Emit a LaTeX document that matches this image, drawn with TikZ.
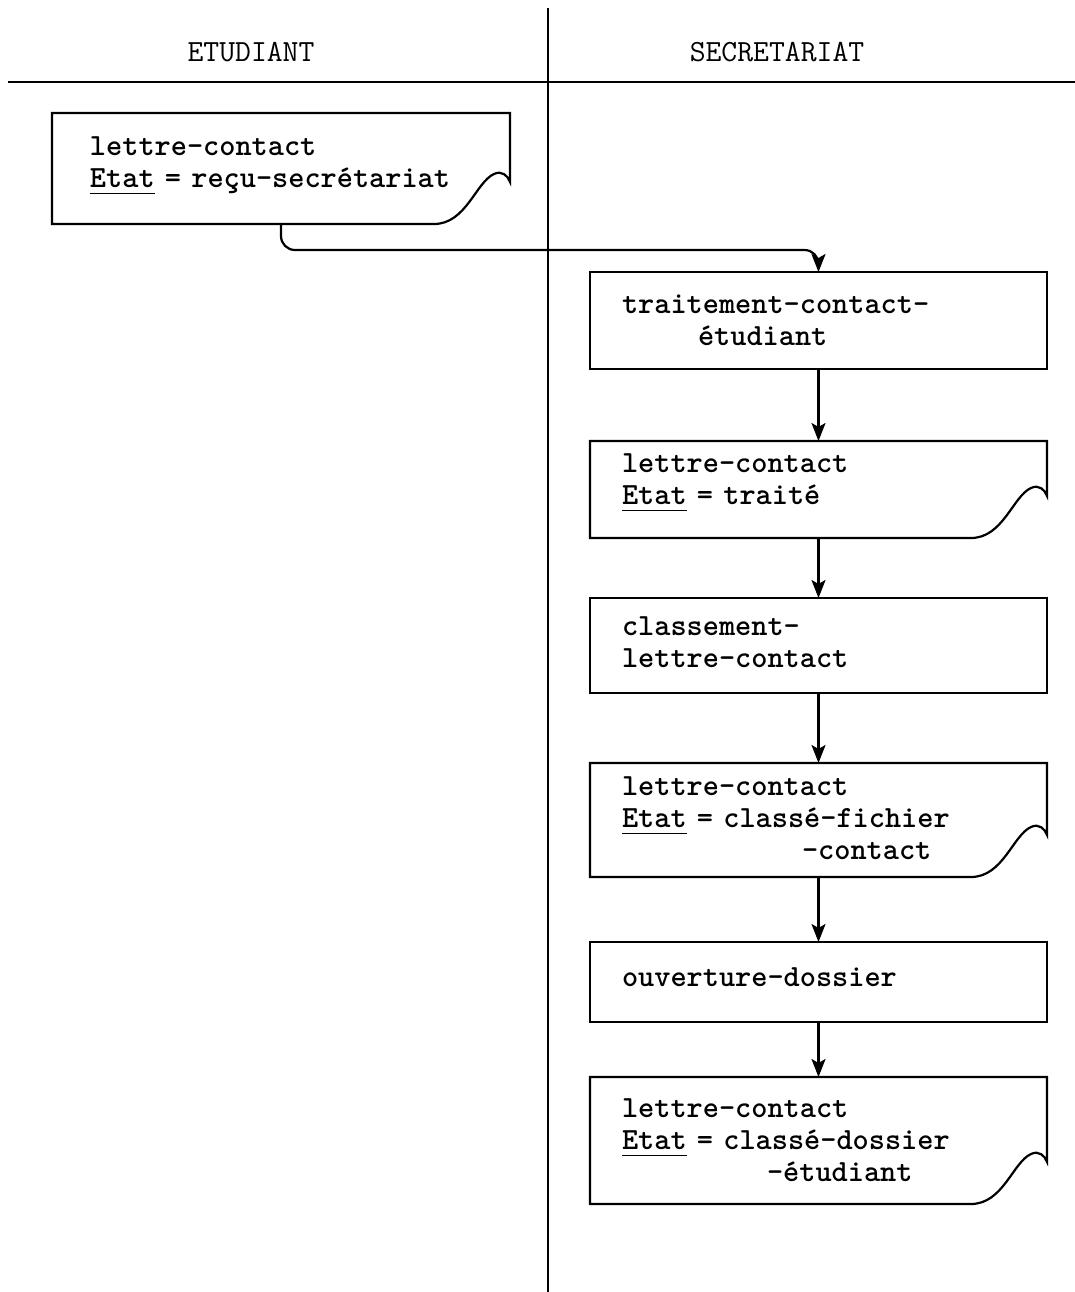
\documentclass[tikz,border=0pt]{standalone}
\usetikzlibrary{positioning,calc,arrows.meta}

% typewriter face: fixed pitch, spaces included
\protected\def\machine{\ttfamily\bfseries\fontsize{15.4}{16}\selectfont
  \fontdimen2\font=0.525em \fontdimen3\font=0pt \fontdimen4\font=0pt\relax}
\protected\def\entete{\ttfamily\fontsize{15.4}{16}\selectfont}
% contour of a document node, with the curled lower right corner
\newcommand{\lettre}[1]{%
  \draw[trait] (#1.south west) -- ([xshift=-38pt]#1.south east)
    .. controls +(16pt,0pt) and +(-9pt,-4pt) .. ([xshift=-8pt,yshift=25pt]#1.south east)
    .. controls +(4pt,2pt) and +(-1pt,3pt) .. ([yshift=21pt]#1.south east)
    -- (#1.north east) -- (#1.north west) -- cycle;}
% thin underline, as typed
\newcommand{\souligne}[1]{\leavevmode\setbox0\hbox{#1}\rlap{\vrule width\wd0 height -2.6pt depth 3.1pt}\box0\relax}

\begin{document}
\begin{tikzpicture}[
        x=0.5pt, y=-0.5pt,
        font=\machine,
        trait/.style={line width=1.1pt},
        fleche/.style={line width=1.1pt, -{Stealth[length=9pt,width=7pt,inset=2pt]}},
        boite/.style={draw, line width=1.1pt, outer sep=0pt, text width=196.5pt, inner xsep=16pt, align=left},
        lettrenode/.style={boite, draw=none}]

        \useasboundingbox (0,0) rectangle (1075,1292);

        % lanes
        \draw[line width=1pt] (548,8) -- (548,1292);
        \draw[line width=1.3pt] (8,82) -- (1075,82);
        \node[font=\entete] (etud) at (251,52) {ETUDIANT};
        \node[font=\entete] (secr) at (777,52) {SECRETARIAT};

        % etudiant
        \node[lettrenode, minimum height=55.5pt, text width=191pt, inner xsep=19pt, text depth=22pt] (d1) at (281,168.5)
            {lettre-contact\\\souligne{Etat} = reçu-secrétariat};

        % secretariat
        \node[boite, minimum height=48.5pt] (p1) at (818.5,320.5)
            {traitement-contact-\\\hspace*{38pt}étudiant};
        \node[lettrenode, minimum height=48.5pt, text depth=26pt, below=36pt of p1] (d2)
            {lettre-contact\\\souligne{Etat} = traité};
        \node[boite, minimum height=47.5pt, text depth=19.5pt, below=30pt of d2] (p2)
            {classement-\\lettre-contact};
        \node[lettrenode, minimum height=57pt, text depth=34pt, below=35pt of p2] (d3)
            {lettre-contact\\\souligne{Etat} = classé-fichier\\\hspace*{90pt}-contact};
        \node[boite, minimum height=40pt, text depth=5pt, below=32.5pt of d3] (p3)
            {ouverture-dossier};
        \node[lettrenode, minimum height=63.5pt, below=27.5pt of p3] (d4)
            {lettre-contact\\\souligne{Etat} = classé-dossier\\\hspace*{72.5pt}-étudiant};

        \foreach \d in {d1,d2,d3,d4} {\lettre{\d}}

        \draw[fleche, rounded corners=7pt] (d1.south) -- ++(0,-13pt) -| (p1.north);
        \draw[fleche] (p1.south) -- (d2.north);
        \draw[fleche] (d2.south) -- (p2.north);
        \draw[fleche] (p2.south) -- (d3.north);
        \draw[fleche] (d3.south) -- (p3.north);
        \draw[fleche] (p3.south) -- (d4.north);
\end{tikzpicture}
\end{document}
